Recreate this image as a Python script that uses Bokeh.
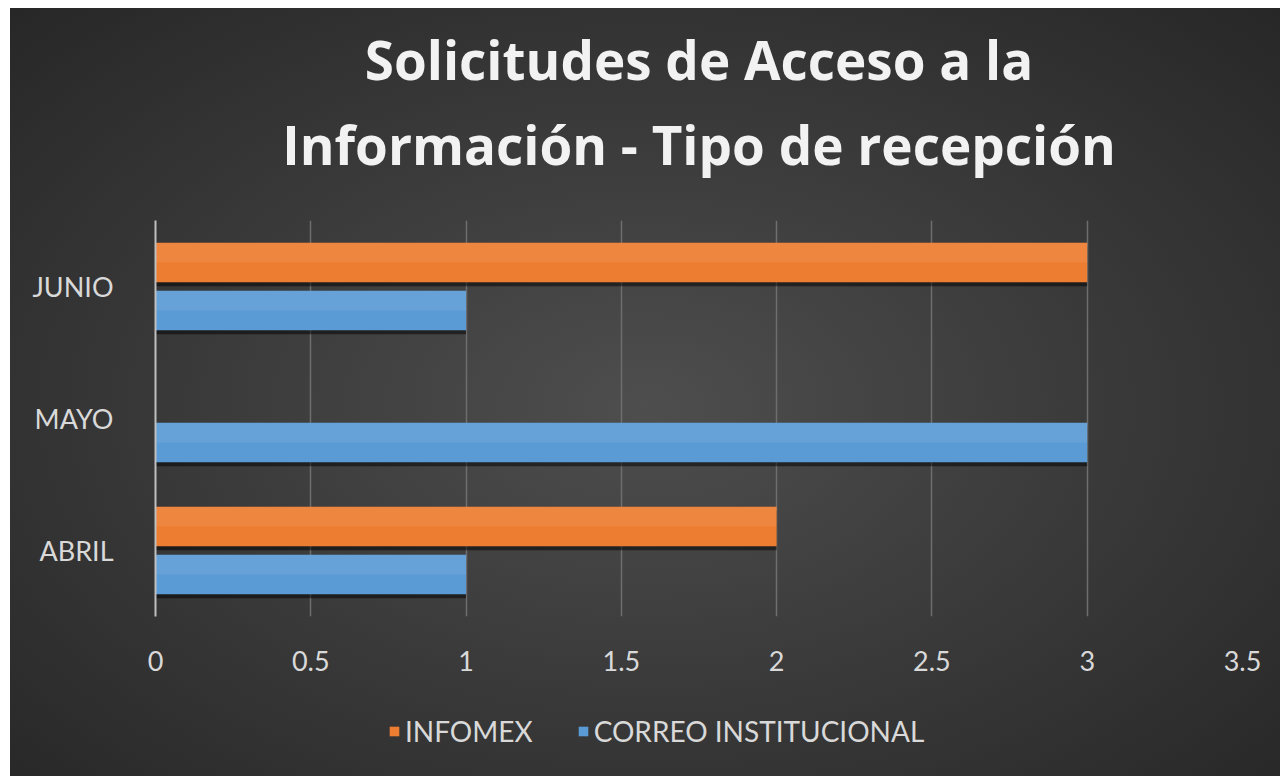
from bokeh.plotting import figure
from bokeh.models import FactorRange, Title, Legend, LegendItem, ColumnDataSource
from bokeh.layouts import column
from bokeh.transform import dodge
from bokeh.embed import file_html
from bokeh.resources import INLINE

months = ["ABRIL", "MAYO", "JUNIO"]
infomex = [2, 0, 3]
correo = [1, 3, 1]
x_ticks = [0, 0.5, 1, 1.5, 2, 2.5, 3, 3.5]
title_line1 = "Solicitudes de Acceso a la"
title_line2 = "Información - Tipo de recepción"
series_names = ["INFOMEX", "CORREO INSTITUCIONAL"]
colors = ["#ED7D31", "#5B9BD5"]

src = ColumnDataSource(dict(month=months, infomex=infomex, correo=correo))

p = figure(
    width=1270, height=680,
    y_range=FactorRange(factors=months, range_padding=0),
    x_range=(0, 3.5),
    output_backend="svg", toolbar_location=None,
    min_border_left=145, min_border_right=38,
    min_border_top=212, min_border_bottom=72,
)
p.border_fill_alpha = 0
p.background_fill_alpha = 0
p.outline_line_color = None

# titles (bottom line first so it sits nearest the plot)
t2 = Title(text=title_line2, align="center", text_font="Open Sans", text_font_style="bold",
           text_font_size="53px", text_color="#f2f2f2", standoff=80)
t1 = Title(text=title_line1, align="center", text_font="Open Sans", text_font_style="bold",
           text_font_size="53px", text_color="#f2f2f2", standoff=-60)
p.add_layout(t2, "above")
p.add_layout(t1, "above")

off = 0.182
h = 0.30
# shadows
p.hbar(y=dodge("month", off - 0.03, range=p.y_range), right="infomex", left=0, height=h,
       source=src, fill_color="black", fill_alpha=0.5, line_color=None)
p.hbar(y=dodge("month", -off - 0.03, range=p.y_range), right="correo", left=0, height=h,
       source=src, fill_color="black", fill_alpha=0.5, line_color=None)

p.hbar(y=dodge("month", off, range=p.y_range), right="infomex", left=0, height=h,
       source=src, fill_color=colors[0], line_color=None)
p.hbar(y=dodge("month", -off, range=p.y_range), right="correo", left=0, height=h,
       source=src, fill_color=colors[1], line_color=None)
# light highlight on top part of bars
p.hbar(y=dodge("month", off + 0.075, range=p.y_range), right="infomex", left=0, height=h / 2,
       source=src, fill_color="white", fill_alpha=0.07, line_color=None)
p.hbar(y=dodge("month", -off + 0.075, range=p.y_range), right="correo", left=0, height=h / 2,
       source=src, fill_color="white", fill_alpha=0.07, line_color=None)

# axes
p.xaxis.ticker = x_ticks
p.xaxis.major_label_overrides = {0: "0", 1: "1", 2: "2", 3: "3"}
p.xaxis.axis_line_color = None
p.xaxis.major_tick_line_color = None
p.xaxis.minor_tick_line_color = None
p.xaxis.major_label_text_font = "Lato"
p.xaxis.major_label_text_font_size = "27px"
p.xaxis.major_label_text_color = "#d9d9d9"
p.xaxis.major_label_standoff = 28

p.yaxis.axis_line_color = "#bfbfbf"
p.yaxis.axis_line_width = 2
p.yaxis.major_tick_line_color = None
p.yaxis.minor_tick_line_color = None
p.yaxis.major_label_text_font = "Lato"
p.yaxis.major_label_text_font_size = "27px"
p.yaxis.major_label_text_color = "#d9d9d9"
p.yaxis.major_label_standoff = 36

p.xgrid.grid_line_color = "#6e6e6e"
p.xgrid.grid_line_width = 1.5
p.ygrid.grid_line_color = None

# legend strip (zero-height bars: only the legend swatches are visible)
pl = figure(width=1270, height=88, output_backend="svg", toolbar_location=None,
            x_axis_type=None, y_axis_type=None,
            min_border_left=145, min_border_right=38, min_border_top=0, min_border_bottom=0,
            x_range=(0, 3.5), y_range=FactorRange(factors=months))
pl.border_fill_alpha = 0
pl.background_fill_alpha = 0
pl.outline_line_color = None
pl.grid.grid_line_color = None
l1 = pl.hbar(y="month", right="infomex", left=0, height=0, source=src,
             fill_color=colors[0], line_color=None)
l2 = pl.hbar(y="month", right="correo", left=0, height=0, source=src,
             fill_color=colors[1], line_color=None)
legend = Legend(items=[LegendItem(label=series_names[0], renderers=[l1]),
                       LegendItem(label=series_names[1], renderers=[l2])],
                orientation="horizontal", location=(233, 28),
                label_text_font="Lato", label_text_font_size="28px",
                label_text_color="#d9d9d9", glyph_width=12, glyph_height=12,
                spacing=44, label_standoff=5,
                background_fill_alpha=0, border_line_color=None,
                margin=0, padding=0)
pl.add_layout(legend, "center")

layout = column(p, pl, spacing=0, width=1270, height=768,
                styles={"background": "radial-gradient(ellipse farthest-corner at 50% 52%, #4e4e4e 0%, #3c3c3c 45%, #272727 100%)",
                        "margin-left": "10px", "margin-top": "8px"})

open("out.html", "w").write(file_html(layout, INLINE))
